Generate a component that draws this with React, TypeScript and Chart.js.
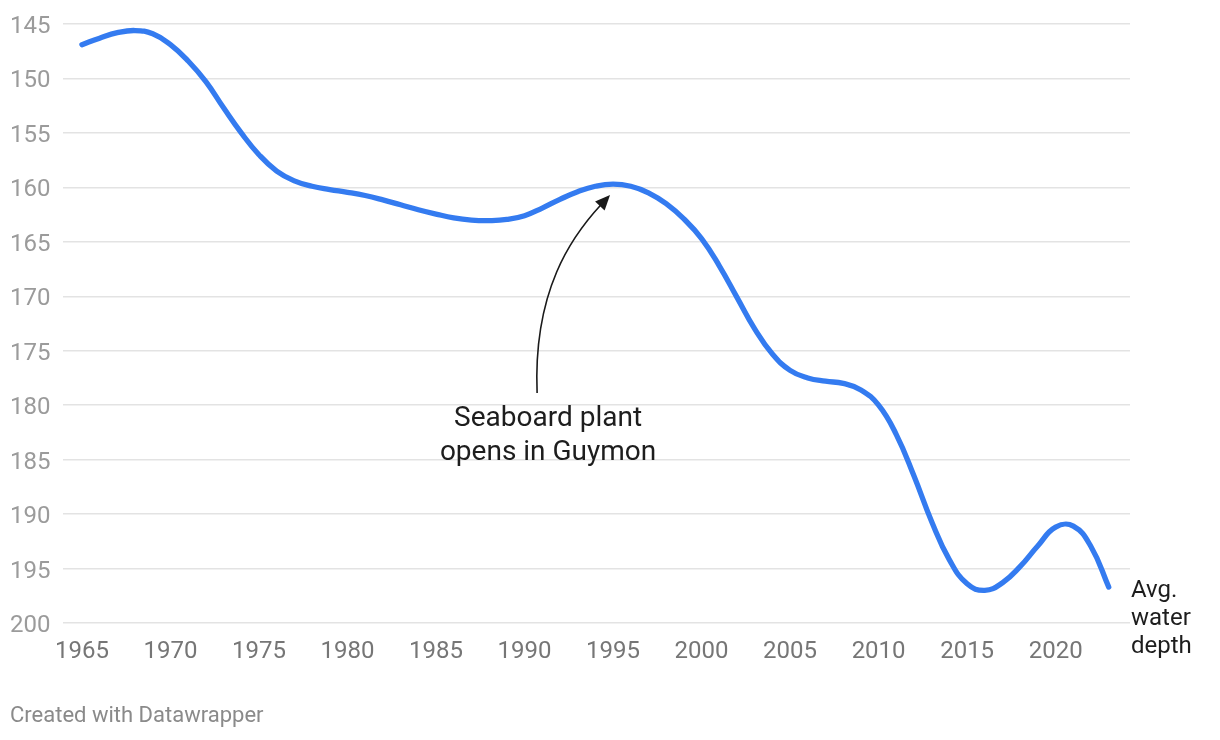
import React, { useEffect, useRef } from "react";
import { Chart, registerables } from "chart.js";

Chart.register(...registerables);

const years = [
  1965, 1966, 1967, 1968, 1969, 1970, 1971, 1972, 1973, 1974,
  1975, 1976, 1977, 1978, 1979, 1980, 1981, 1982, 1983, 1984,
  1985, 1986, 1987, 1988, 1989, 1990, 1991, 1992, 1993, 1994,
  1995, 1996, 1997, 1998, 1999, 2000, 2001, 2002, 2003, 2004,
  2005, 2006, 2007, 2008, 2009, 2010, 2011, 2012, 2013, 2014,
  2015, 2016, 2017, 2018, 2019, 2020, 2021, 2022, 2023,
];

const depth = [
  146.9, 146.3, 145.8, 145.6, 145.9, 146.9, 148.4, 150.3, 152.7, 155.0,
  157.0, 158.5, 159.4, 159.9, 160.2, 160.45, 160.75, 161.15, 161.6, 162.05,
  162.45, 162.8, 163.0, 163.05, 162.95, 162.6, 161.9, 161.1, 160.4, 159.9,
  159.7, 159.9, 160.5, 161.5, 162.9, 164.7, 167.2, 170.1, 173.0, 175.3,
  176.8, 177.5, 177.8, 178.0, 178.6, 180.0, 182.7, 186.5, 190.7, 194.2,
  196.4, 197.0, 196.3, 194.8, 192.9, 191.2, 191.1, 193.0, 196.7,
];

const xTickYears = [1965, 1970, 1975, 1980, 1985, 1990, 1995, 2000, 2005, 2010, 2015, 2020];
const yTickValues = [145, 150, 155, 160, 165, 170, 175, 180, 185, 190, 195, 200];

const annotationLines = ["Seaboard plant", "opens in Guymon"];
// arrow path in data coordinates: start, control 1, control 2, tip  [year, depth]
const arrowX = [1990.71, 1990.48, 1992.68, 1994.83];
const arrowY = [178.88, 169.43, 164.47, 160.7];
const annotationAnchor = [1991.33, 181.3]; // [year, depth] centre of first text line
const endLabelLines = ["Avg.", "water", "depth"];
const footerText = "Created with Datawrapper";

const FONT = "Roboto, 'Noto Sans', sans-serif";

const overlayPlugin = {
  id: "overlay",
  afterDatasetsDraw(chart: any) {
    const { ctx, chartArea, scales } = chart;
    const x = scales.x;
    const y = scales.y;
    ctx.save();

    // arrow
    const pts = arrowX.map((v, i) => [x.getPixelForValue(v), y.getPixelForValue(arrowY[i])]);
    const [p0, p1, p2, p3] = pts;
    const dx = p3[0] - p2[0];
    const dy = p3[1] - p2[1];
    const len = Math.hypot(dx, dy);
    const ux = dx / len;
    const uy = dy / len;
    const headLen = 15;
    const headW = 6.5;
    const bx = p3[0] - ux * headLen;
    const by = p3[1] - uy * headLen;
    ctx.strokeStyle = "#1a1a1a";
    ctx.lineWidth = 1.6;
    ctx.beginPath();
    ctx.moveTo(p0[0], p0[1]);
    ctx.bezierCurveTo(p1[0], p1[1], p2[0], p2[1], bx + ux * 2, by + uy * 2);
    ctx.stroke();
    ctx.fillStyle = "#1a1a1a";
    ctx.beginPath();
    ctx.moveTo(p3[0], p3[1]);
    ctx.lineTo(bx - uy * headW, by + ux * headW);
    ctx.lineTo(bx + uy * headW, by - ux * headW);
    ctx.closePath();
    ctx.fill();

    // annotation text
    ctx.font = `400 28px ${FONT}`;
    ctx.fillStyle = "#1d1d1d";
    ctx.textAlign = "center";
    ctx.textBaseline = "middle";
    const ax = x.getPixelForValue(annotationAnchor[0]);
    const ay = y.getPixelForValue(annotationAnchor[1]);
    annotationLines.forEach((t, i) => ctx.fillText(t, ax, ay + i * 34));

    // end label
    ctx.font = `400 24px ${FONT}`;
    ctx.textAlign = "left";
    ctx.fillStyle = "#1d1d1d";
    endLabelLines.forEach((t, i) => ctx.fillText(t, chartArea.right + 1, 591 + i * 28));

    ctx.restore();
  },
  afterDraw(chart: any) {
    const { ctx } = chart;
    ctx.save();
    ctx.font = `400 22px ${FONT}`;
    ctx.fillStyle = "#8a8a8a";
    ctx.textAlign = "left";
    ctx.textBaseline = "middle";
    ctx.fillText(footerText, 10, 716);
    ctx.restore();
  },
};

export default function App() {
  const ref = useRef<HTMLCanvasElement | null>(null);

  useEffect(() => {
    if (!ref.current) return;
    const chart = new Chart(ref.current, {
      type: "line",
      data: {
        datasets: [
          {
            data: years.map((yr, i) => ({ x: yr, y: depth[i] })),
            borderColor: "#347bf0",
            borderWidth: 5.3,
            pointRadius: 0,
            tension: 0.45,
            fill: false,
            clip: false as any,
            borderCapStyle: "round",
            borderJoinStyle: "round",
          },
        ],
      },
      options: {
        responsive: false,
        animation: false,
        layout: { padding: { left: 10, right: 90, top: 24, bottom: 57 } },
        plugins: {
          legend: { display: false },
          tooltip: { enabled: false },
        },
        scales: {
          x: {
            type: "linear",
            min: 1963.93,
            max: 2024.2,
            border: { display: false },
            grid: { display: false, drawTicks: false },
            afterBuildTicks: (axis: any) => {
              axis.ticks = xTickYears.map((v) => ({ value: v }));
            },
            afterFit: (axis: any) => {
              axis.height = 60;
            },
            ticks: {
              padding: 15,
              maxRotation: 0,
              autoSkip: false,
              color: "#767676",
              font: { family: FONT, size: 24 },
              callback: (v: any) => String(v),
            },
          },
          y: {
            type: "linear",
            reverse: true,
            min: 145,
            max: 200,
            border: { display: false },
            grid: { color: "#e3e3e3", lineWidth: 1.5, drawTicks: false },
            afterBuildTicks: (axis: any) => {
              axis.ticks = yTickValues.map((v) => ({ value: v }));
            },
            afterFit: (axis: any) => {
              axis.width = 53;
            },
            ticks: {
              padding: 0,
              crossAlign: "far",
              labelOffset: 3,
              color: "#9b9b9b",
              font: { family: FONT, size: 24 },
              callback: (v: any) => String(v),
            },
          },
        },
      },
      plugins: [overlayPlugin],
    });
    return () => chart.destroy();
  }, []);

  return (
    <div style={{ position: "fixed", left: 0, top: 0, width: 1220, height: 740, background: "#fff" }}>
      <canvas ref={ref} width={1220} height={740} style={{ width: 1220, height: 740, display: "block" }} />
    </div>
  );
}
